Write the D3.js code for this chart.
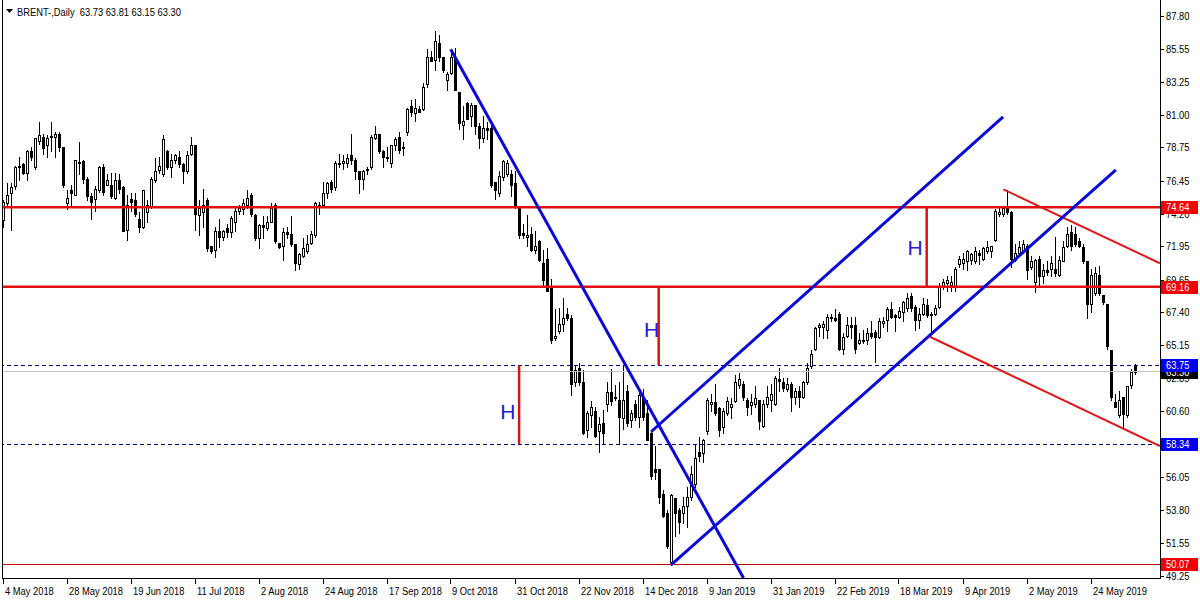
<!DOCTYPE html>
<html><head><meta charset="utf-8">
<script src="https://cdn.jsdelivr.net/npm/d3@7"></script>
<style>html,body{margin:0;padding:0;background:#fff;}svg{display:block;}</style>
</head><body>
<svg id="c" width="1200" height="600"></svg>
<script>
// ---- DATA ----
const symbolTitle = "BRENT-,Daily";
const lastQuote = [63.73, 63.81, 63.15, 63.30];
// [open, high, low, close] per daily bar
const ohlc = [
[73.76,75.13,73.30,75.02],[74.9,76.3,74.7,75.5],[75.6,76.3,73.1,76.0],[76.1,77.5,75.9,77.4],[77.5,78.1,76.5,77.4],
[77.6,77.7,76.9,77.0],[77.0,78.6,76.5,78.5],[78.5,78.8,77.9,78.1],[77.4,79.4,77.3,79.4],[79.2,80.5,79.0,79.6],
[79.5,79.7,78.3,78.7],[78.9,79.6,78.1,79.4],[79.5,80.5,78.5,79.55],[79.5,79.8,78.1,79.7],[79.7,79.8,78.5,78.8],
[78.8,78.8,76.0,76.2],[74.9,75.8,74.5,75.3],[75.8,76.2,74.8,75.6],[75.5,77.9,75.5,77.9],[77.7,79.1,76.9,77.75],
[77.8,77.9,76.3,76.6],[76.6,76.7,75.1,75.4],[75.4,75.6,73.8,75.0],[75.2,76.1,74.4,75.9],[75.8,77.5,75.7,77.4],
[77.4,77.6,75.5,75.7],[76.2,76.9,76.2,76.5],[76.2,77.0,75.3,75.4],[75.3,77.0,75.2,76.5],[76.5,76.9,75.6,75.9],
[76.0,76.1,73.0,73.0],[73.1,75.5,72.4,74.8],[75.2,75.6,74.4,75.0],[75.1,75.6,74.0,74.2],[73.8,74.3,72.9,73.3],
[73.3,75.8,73.2,75.8],[74.3,75.1,73.6,74.8],[74.7,76.7,74.6,76.6],[76.5,78.0,76.4,77.1],[77.2,78.1,76.97,77.5],
[76.9,79.6,76.8,79.3],[78.5,78.6,77.3,77.4],[77.4,78.3,76.7,77.9],[77.9,78.3,77.7,78.2],[78.1,78.5,77.4,77.6],
[77.6,77.7,76.3,77.1],[77.1,78.5,77.0,78.2],[78.3,79.5,78.2,78.9],[78.9,78.9,73.1,74.2],[74.1,75.1,72.7,74.6],
[74.3,75.9,73.3,74.8],[75.1,75.3,71.6,71.8],[71.97,72.0,71.5,71.6],[71.7,73.3,71.2,73.0],[73.0,73.8,71.9,72.6],
[72.6,73.1,72.4,73.0],[73.2,73.5,72.6,72.9],[72.95,74.0,72.6,73.9],[73.6,74.7,73.0,74.4],[74.4,74.8,74.2,74.6],
[74.5,75.2,74.2,74.9],[74.8,75.8,74.6,75.3],[75.5,75.6,74.0,74.2],[74.1,74.2,72.4,72.5],[72.5,73.5,71.8,73.4],
[73.4,74.0,72.5,73.3],[73.2,74.0,73.1,73.6],[73.6,74.9,73.6,74.6],[74.8,74.9,72.2,72.3],[72.15,72.2,71.8,71.9],
[71.97,73.2,71.0,72.9],[72.9,73.3,72.5,72.8],[72.8,74.0,72.0,72.1],[72.1,72.1,70.3,70.8],[70.7,71.5,70.4,71.4],
[71.3,72.5,71.2,71.8],[71.6,72.7,71.5,72.1],[72.2,73.0,72.1,72.8],[72.7,75.0,72.6,74.9],[74.7,75.0,74.2,74.8],
[74.8,76.4,74.7,75.6],[75.6,76.4,75.3,76.3],[76.4,76.5,75.7,75.9],[76.0,77.8,75.8,77.7],[77.6,78.3,77.4,77.7],
[77.7,78.2,77.3,77.8],[77.7,78.3,77.4,78.0],[78.2,79.7,77.6,77.9],[77.9,78.0,76.6,77.1],[77.1,77.1,75.6,76.6],
[76.6,77.2,75.9,77.1],[77.2,77.4,76.9,77.3],[77.4,79.6,77.3,79.5],[79.4,80.2,79.3,79.7],[79.7,79.7,78.4,78.5],
[78.5,78.6,77.4,78.1],[78.1,78.8,77.8,78.0],[77.7,78.9,77.4,78.9],[78.9,79.5,78.6,79.3],[79.5,79.8,78.4,78.6],
[78.7,79.1,78.2,78.75],[79.8,81.5,79.6,81.4],[81.6,82.0,80.9,81.2],[81.1,82.1,80.6,81.5],[81.4,81.6,81.2,81.2],
[81.4,83.2,81.3,82.9],[83.1,85.5,82.9,85.0],[85.0,85.4,84.7,84.7],[84.8,86.8,84.1,86.1],[85.96,86.5,84.7,85.0],
[85.0,85.0,83.96,84.1],[83.4,83.96,82.7,83.8],[83.85,85.5,83.8,84.95],[84.95,85.6,82.7,82.7],[82.6,82.6,80.0,80.4],
[80.3,81.6,79.3,80.6],[81.8,81.9,80.7,80.7],[80.9,81.8,80.2,81.7],[81.7,81.7,79.7,80.2],[80.2,80.4,78.7,79.4],
[79.4,80.9,79.1,80.1],[80.1,80.5,79.3,79.95],[80.1,80.2,76.0,76.2],[76.4,76.4,75.2,75.8],[75.6,77.1,75.4,76.8],
[76.7,77.9,76.5,77.8],[76.9,77.9,76.8,77.7],[76.9,77.2,75.4,76.2],[76.3,77.1,74.6,74.7],[74.6,74.6,72.5,72.7],
[72.85,73.5,72.5,72.7],[72.6,74.1,72.0,72.7],[72.8,73.3,71.6,71.7],[71.7,73.0,71.5,72.0],[72.3,72.4,70.9,71.0],
[70.8,71.7,69.2,69.6],[71.1,71.8,68.9,68.9],[69.1,69.7,65.3,65.5],[65.6,67.6,65.5,65.8],[66.1,67.7,66.0,66.6],
[66.6,68.4,66.1,67.0],[67.3,67.7,66.9,67.0],[67.0,67.2,61.7,62.5],[62.6,63.8,62.3,63.4],[63.6,63.9,62.4,62.6],
[62.6,63.4,59.0,59.1],[59.3,60.6,58.8,60.5],[60.3,61.3,59.5,60.9],[60.6,60.9,58.8,58.9],[59.2,60.2,57.8,59.7],
[59.8,60.7,58.4,59.1],[61.1,62.6,60.6,61.9],[61.9,63.5,61.0,61.3],[61.5,62.4,61.4,61.6],[61.4,62.6,58.4,60.2],
[60.1,63.7,59.4,61.4],[62.0,62.4,59.6,59.8],[60.0,60.7,59.5,60.45],[61.1,61.4,60.0,60.2],[60.2,61.9,59.5,61.7],
[61.5,62.1,60.0,60.2],[60.45,61.4,58.6,58.6],[59.1,59.3,55.9,56.1],[56.6,58.2,55.9,56.4],[56.6,56.6,54.3,54.7],
[54.9,55.2,53.3,53.4],[53.6,53.8,51.2,51.3],[50.2,54.9,50.0,54.8],[54.6,54.6,52.0,53.6],[53.8,53.9,52.2,53.0],
[53.6,54.7,52.9,54.1],[54.1,55.4,52.6,54.7],[54.7,56.8,54.5,56.3],[55.6,58.3,55.4,57.4],[57.8,58.8,57.2,57.5],
[57.7,58.7,57.1,58.6],[59.2,61.5,59.0,61.4],[61.1,61.8,60.6,61.2],[61.2,62.5,60.3,60.5],[60.8,60.9,58.9,59.3],
[59.5,60.8,59.1,60.6],[60.5,61.6,60.3,61.3],[60.9,61.5,60.1,61.1],[61.3,63.1,61.2,62.6],[62.4,63.2,62.2,62.8],
[62.5,62.7,61.4,61.6],[61.4,61.5,60.3,60.9],[61.0,61.8,60.4,61.2],[61.1,62.3,60.9,61.5],[61.4,61.4,59.4,59.9],
[59.6,61.4,59.5,61.1],[61.1,62.3,60.9,61.6],[61.4,62.5,60.6,61.8],[61.1,63.0,61.0,62.9],[62.8,63.6,62.0,62.7],
[62.6,62.9,62.0,62.2],[62.1,62.9,62.0,62.5],[62.5,62.6,60.6,61.6],[61.6,62.2,61.1,62.0],[62.0,62.3,60.9,61.6],
[61.6,62.7,61.5,62.6],[62.6,63.9,62.5,63.6],[63.7,64.8,63.6,64.5],[64.9,66.4,64.8,66.3],[66.4,66.7,65.8,66.5],
[66.4,66.8,65.6,66.6],[66.2,67.3,65.6,67.1],[67.1,67.3,66.8,67.0],[67.0,67.6,66.8,66.9],[67.3,67.4,64.8,64.9],
[64.9,65.95,64.5,65.7],[65.8,67.1,65.7,66.5],[66.5,67.1,65.6,66.4],[66.5,67.1,64.6,64.9],[65.3,65.96,65.2,65.5],
[65.5,66.2,65.3,65.45],[65.5,66.3,65.2,66.0],[66.0,66.8,65.6,65.8],[66.07,66.2,64.0,65.7],[65.7,67.0,65.6,66.8],
[66.7,67.1,66.4,66.8],[66.9,67.8,66.1,67.6],[67.6,68.1,67.0,67.1],[67.2,67.3,66.1,67.1],[67.1,67.8,67.0,67.5],
[67.45,68.2,66.8,68.1],[67.7,68.7,67.5,68.4],[68.5,68.7,67.5,67.7],[67.8,67.9,66.2,66.9],[66.9,67.7,66.3,67.3],
[67.3,68.4,67.2,68.0],[67.9,68.3,67.1,67.2],[67.3,67.4,66.1,67.2],[67.3,67.9,67.2,67.7],[67.8,69.4,67.7,69.2],
[69.2,69.7,69.0,69.5],[69.4,69.9,68.9,69.6],[69.3,69.9,68.9,69.5],[69.2,70.5,68.9,70.4],[70.7,71.3,70.5,71.1],
[70.8,71.5,70.4,71.1],[70.9,71.7,70.3,71.6],[71.0,71.5,70.7,71.4],[70.9,71.9,70.8,71.6],[71.46,71.7,70.7,71.35],
[71.1,71.9,71.0,71.8],[71.6,72.3,71.5,71.9],[71.6,72.0,71.2,71.97],[72.4,74.5,72.3,74.4],[74.2,74.6,74.0,74.3],
[74.2,74.6,74.0,74.6],[74.6,75.8,74.2,74.3],[74.3,74.4,70.5,71.1],[71.0,72.1,70.9,71.5],[71.5,72.3,71.4,71.9],
[71.6,72.4,71.5,72.1],[72.0,72.1,69.7,70.3],[70.5,71.3,70.4,70.9],[69.5,71.1,68.8,71.0],[71.1,71.3,69.3,69.9],
[69.9,70.7,69.4,70.3],[70.3,70.9,69.97,70.2],[70.4,71.3,69.9,70.8],[70.4,72.6,69.9,70.1],[69.97,71.3,69.9,71.0],
[70.96,72.3,70.9,71.9],[72.0,73.3,71.9,72.8],[72.9,73.4,71.7,72.0],[72.8,73.3,71.98,72.1],[72.3,72.5,71.9,72.0],
[71.9,72.1,70.8,70.9],[70.9,70.9,66.99,67.97],[67.97,70.4,67.4,69.97],[68.7,70.5,68.6,70.1],[69.97,70.6,68.6,68.7],
[68.6,68.6,68.0,68.1],[68.0,68.0,64.9,65.1],[64.8,64.8,61.4,61.6],[61.25,61.8,60.9,60.9],[60.3,62.0,60.2,61.4],
[61.55,61.6,59.4,60.4],[60.3,62.3,60.2,62.3],[62.4,63.5,62.2,63.3],[63.73,63.81,63.15,63.30]
];
const dateLabels = ["4 May 2018","28 May 2018","19 Jun 2018","11 Jul 2018","2 Aug 2018","24 Aug 2018",
  "17 Sep 2018","9 Oct 2018","31 Oct 2018","22 Nov 2018","14 Dec 2018","9 Jan 2019","31 Jan 2019",
  "22 Feb 2019","18 Mar 2019","9 Apr 2019","2 May 2019","24 May 2019"];
const barsPerDateLabel = 16;
const priceTicks = [87.80,85.55,83.25,81.00,78.75,76.45,74.20,71.95,69.65,67.40,65.15,62.85,60.60,58.30,56.05,53.80,51.55,49.25];
const redLevels = [74.64, 69.16];
const bottomLevel = 50.07;
const dashedLevels = [63.75, 58.34];
const bidPrice = 63.30;
// trend lines: [[bar, price],[bar, price]]
const blueLines = [
  [[111.8,85.51],[185.0,49.11]],
  [[161.9,59.18],[249.9,80.85]],
  [[166.9,50.01],[278.1,77.20]]
];
const redLines = [
  [[249.95,75.87],[289.1,70.78]],
  [[231.6,65.72],[289.1,58.20]]
];
// measured "H" heights: [bar, lowPrice, highPrice]
const heightMarks = [[128.9,58.34,63.75],[163.8,63.75,69.16],[230.8,69.16,74.64]];
// "H" label anchors: [bar, price]
const heightLabels = [[126.1,60.55],[162.0,66.2],[227.9,71.9]];

// ---- CHART ----
const W = 1200, H = 600, plotRight = 1160, plotBottom = 578.5, plotLeft = 2.5;
const svg = d3.select("#c");
const x = d3.scaleLinear().domain([0, ohlc.length - 1]).range([3.5, 3.5 + 4 * (ohlc.length - 1)]);
const y = d3.scaleLinear().domain([49.25, 87.80]).range([576, 16]);
const FONT = "'Liberation Sans', Arial, sans-serif";
const SX = 0.85;

svg.append("rect").attr("width", W).attr("height", H).attr("fill", "#fff");
svg.append("defs").append("clipPath").attr("id", "plot")
  .append("rect").attr("x", plotLeft).attr("y", 0).attr("width", plotRight - plotLeft).attr("height", plotBottom);

const plot = svg.append("g").attr("clip-path", "url(#plot)");

// candles
const candles = plot.append("g").attr("shape-rendering", "crispEdges");
ohlc.forEach((d, i) => {
  const [o, h, l, c] = d;
  const cx = x(i);
  candles.append("line").attr("x1", cx).attr("x2", cx)
    .attr("y1", Math.round(y(h))).attr("y2", Math.round(y(l)) + 1)
    .attr("stroke", "#000").attr("stroke-width", 1);
  const yt = Math.round(y(Math.max(o, c))), yb = Math.round(y(Math.min(o, c)));
  if (yb - yt < 1) {
    candles.append("line").attr("x1", cx - 1.5).attr("x2", cx + 1.5)
      .attr("y1", yt + 0.5).attr("y2", yt + 0.5).attr("stroke", "#000");
  } else if (c >= o) {
    candles.append("rect").attr("x", cx - 1).attr("y", yt + 0.5)
      .attr("width", 2).attr("height", yb - yt)
      .attr("fill", "#fff").attr("stroke", "#000").attr("stroke-width", 1);
  } else {
    candles.append("rect").attr("x", cx - 1.5).attr("y", yt)
      .attr("width", 3).attr("height", yb - yt + 1).attr("fill", "#000");
  }
});

// horizontal levels
const lv = plot.append("g");
lv.append("line").attr("x1", 0).attr("x2", plotRight).attr("y1", y(bidPrice)).attr("y2", y(bidPrice))
  .attr("stroke", "#c0c0c0").attr("stroke-width", 1).attr("shape-rendering", "crispEdges");
dashedLevels.forEach(p => {
  lv.append("line").attr("x1", 0).attr("x2", plotRight).attr("y1", Math.round(y(p)) + 0.5).attr("y2", Math.round(y(p)) + 0.5)
    .attr("stroke", "#000080").attr("stroke-width", 1).attr("stroke-dasharray", "4,3").attr("shape-rendering", "crispEdges");
});
redLevels.forEach(p => {
  lv.append("line").attr("x1", 0).attr("x2", plotRight).attr("y1", y(p)).attr("y2", y(p))
    .attr("stroke", "#e01010").attr("stroke-width", 2.5);
});
lv.append("line").attr("x1", 0).attr("x2", plotRight).attr("y1", Math.round(y(bottomLevel)) + 0.5).attr("y2", Math.round(y(bottomLevel)) + 0.5)
  .attr("stroke", "#c00000").attr("stroke-width", 1).attr("shape-rendering", "crispEdges");

// height marks
heightMarks.forEach(([b, lo, hi]) => {
  plot.append("line").attr("x1", x(b)).attr("x2", x(b)).attr("y1", y(lo)).attr("y2", y(hi))
    .attr("stroke", "#e01010").attr("stroke-width", 2.5);
});
heightLabels.forEach(([b, p]) => {
  plot.append("text").attr("x", x(b)).attr("y", y(p)).attr("dy", "0.36em")
    .attr("text-anchor", "middle").attr("font-family", FONT).attr("font-size", 21)
    .attr("fill", "#2020d0").text("H");
});

// trend lines
const lineGen = d3.line().x(d => x(d[0])).y(d => y(d[1]));
redLines.forEach(seg => {
  plot.append("path").attr("d", lineGen(seg)).attr("fill", "none")
    .attr("stroke", "#e01818").attr("stroke-width", 2);
});
blueLines.forEach(seg => {
  plot.append("path").attr("d", lineGen(seg)).attr("fill", "none")
    .attr("stroke", "#0808d8").attr("stroke-width", 3);
});

// frame
const frame = svg.append("g").attr("shape-rendering", "crispEdges").attr("stroke", "#000");
frame.append("line").attr("x1", plotLeft).attr("x2", plotLeft).attr("y1", 0).attr("y2", plotBottom);
frame.append("line").attr("x1", plotRight + 0.5).attr("x2", plotRight + 0.5).attr("y1", 0).attr("y2", plotBottom);
frame.append("line").attr("x1", plotLeft).attr("x2", plotRight + 0.5).attr("y1", plotBottom).attr("y2", plotBottom);

// price axis
const pa = svg.append("g");
priceTicks.forEach(p => {
  const yy = Math.round(y(p)) + 0.5;
  pa.append("line").attr("x1", plotRight).attr("x2", plotRight + 4).attr("y1", yy).attr("y2", yy)
    .attr("stroke", "#000").attr("shape-rendering", "crispEdges");
  pa.append("text").attr("transform", `translate(1166,${y(p) + 4}) scale(${SX},1)`)
    .attr("font-family", FONT).attr("font-size", 11).attr("fill", "#000").text(p.toFixed(2));
});
function priceBox(p, bg) {
  const yy = Math.round(y(p));
  pa.append("rect").attr("x", plotRight + 1).attr("y", yy - 6).attr("width", 37).attr("height", 13).attr("fill", bg);
  pa.append("text").attr("transform", `translate(1166,${yy + 4}) scale(${SX},1)`)
    .attr("font-family", FONT).attr("font-size", 11).attr("fill", "#fff").text(p.toFixed(2));
}
priceBox(bidPrice, "#000");
priceBox(dashedLevels[0], "#0000f0");
priceBox(dashedLevels[1], "#0000f0");
priceBox(redLevels[0], "#f00000");
priceBox(redLevels[1], "#f00000");
priceBox(bottomLevel, "#f00000");

// time axis
const ta = svg.append("g");
dateLabels.forEach((t, k) => {
  const xx = Math.round(x(k * barsPerDateLabel)) - 0.5;
  ta.append("line").attr("x1", xx).attr("x2", xx).attr("y1", plotBottom).attr("y2", plotBottom + 5)
    .attr("stroke", "#000").attr("shape-rendering", "crispEdges");
  ta.append("text").attr("transform", `translate(${xx + 1.5},${plotBottom + 16}) scale(${SX},1)`)
    .attr("font-family", FONT).attr("font-size", 11).attr("fill", "#000").text(t);
});

// header
svg.append("path").attr("d", "M6,9 L13,9 L9.5,13 Z").attr("fill", "#000");
svg.append("text").attr("transform", `translate(17,16) scale(${SX},1)`)
  .attr("font-family", FONT).attr("font-size", 11).attr("fill", "#000")
  .attr("xml:space", "preserve")
  .text(symbolTitle + "  " + lastQuote.map(v => v.toFixed(2)).join(" "));
</script>
</body></html>
